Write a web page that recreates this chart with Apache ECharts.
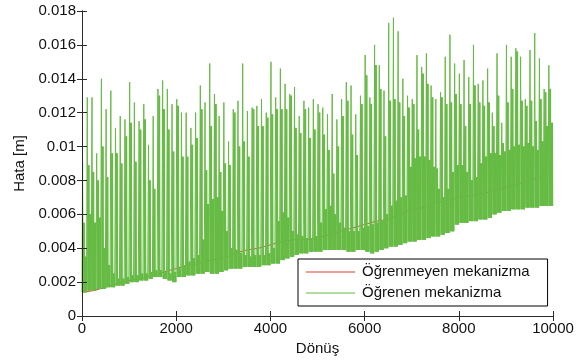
<!DOCTYPE html>
<html><head><meta charset="utf-8">
<script src="https://cdn.jsdelivr.net/npm/echarts@6/dist/echarts.min.js"></script>
<style>html,body{margin:0;padding:0;background:#fff}#c{width:586px;height:363px}</style>
</head><body><div id="c"></div>
<script>
// ---- data ----
const xTickValues = [0, 2000, 4000, 6000, 8000, 10000];
const yTickValues = [0, 0.002, 0.004, 0.006, 0.008, 0.01, 0.012, 0.014, 0.016, 0.018];
const seriesNames = ['Öğrenmeyen mekanizma', 'Öğrenen mekanizma'];

// Öğrenmeyen mekanizma (red), one value every 250 turns
const redStep = 250;
const redValues = [
  0.0014, 0.0015, 0.0017, 0.0019, 0.0021, 0.0022, 0.0024, 0.0026, 0.0028, 0.0030,
  0.0031, 0.0033, 0.0034, 0.0037, 0.0039, 0.0040, 0.0042, 0.0044, 0.0045, 0.0045,
  0.0046, 0.0048, 0.0050, 0.0052, 0.0054, 0.0056, 0.0057, 0.0060, 0.0063, 0.0064,
  0.0067, 0.0068, 0.0070, 0.0071, 0.0072, 0.0074, 0.0076, 0.0078, 0.0080, 0.0082,
  0.0085
];

// Öğrenen mekanizma (green): one spike burst every 100 turns
const spikePeriod = 100;
const spikePeak = [
  0.0091, 0.0129, 0.0129, 0.0096, 0.0140, 0.0122, 0.0133, 0.0111, 0.0118, 0.0116,
  0.0138, 0.0126, 0.0115, 0.0125, 0.0101, 0.0118, 0.0134, 0.0139, 0.0134, 0.0125,
  0.0128, 0.0120, 0.0120, 0.0111, 0.0120, 0.0136, 0.0126, 0.0149, 0.0131, 0.0118,
  0.0126, 0.0103, 0.0122, 0.0127, 0.0149, 0.0121, 0.0123, 0.0124, 0.0128, 0.0120,
  0.0150, 0.0129, 0.0146, 0.0137, 0.0131, 0.0135, 0.0118, 0.0127, 0.0123, 0.0128,
  0.0125, 0.0123, 0.0119, 0.0131, 0.0116, 0.0128, 0.0138, 0.0136, 0.0119, 0.0130,
  0.0154, 0.0129, 0.0160, 0.0148, 0.0133, 0.0173, 0.0176, 0.0168, 0.0140, 0.0130,
  0.0128, 0.0154, 0.0147, 0.0155, 0.0136, 0.0128, 0.0132, 0.0153, 0.0166, 0.0149,
  0.0143, 0.0151, 0.0141, 0.0160, 0.0137, 0.0139, 0.0146, 0.0120, 0.0155, 0.0114,
  0.0160, 0.0153, 0.0158, 0.0153, 0.0128, 0.0157, 0.0167, 0.0152, 0.0134, 0.0148
];
const spikeSecond = [
  0.0055, 0.0089, 0.0085, 0.0080, 0.0100, 0.0082, 0.0096, 0.0096, 0.0090, 0.0106,
  0.0114, 0.0091, 0.0110, 0.0116, 0.0080, 0.0075, 0.0130, 0.0122, 0.0110, 0.0097,
  0.0124, 0.0094, 0.0094, 0.0101, 0.0105, 0.0122, 0.0086, 0.0112, 0.0125, 0.0085,
  0.0090, 0.0089, 0.0120, 0.0100, 0.0103, 0.0094, 0.0122, 0.0112, 0.0112, 0.0117,
  0.0119, 0.0122, 0.0122, 0.0122, 0.0130, 0.0111, 0.0108, 0.0122, 0.0105, 0.0110,
  0.0120, 0.0107, 0.0098, 0.0084, 0.0100, 0.0118, 0.0127, 0.0107, 0.0095, 0.0125,
  0.0142, 0.0125, 0.0148, 0.0134, 0.0106, 0.0127, 0.0128, 0.0126, 0.0118, 0.0123,
  0.0125, 0.0110, 0.0143, 0.0137, 0.0129, 0.0087, 0.0129, 0.0125, 0.0126, 0.0131,
  0.0125, 0.0112, 0.0125, 0.0136, 0.0126, 0.0124, 0.0126, 0.0112, 0.0130, 0.0102,
  0.0126, 0.0134, 0.0156, 0.0127, 0.0124, 0.0127, 0.0115, 0.0128, 0.0132, 0.0134
];
const troughLevel = [
  0.0014, 0.0015, 0.0015, 0.0016, 0.0016, 0.0017, 0.0017, 0.0018, 0.0018, 0.0019,
  0.0020, 0.0020, 0.0021, 0.0021, 0.0022, 0.0023, 0.0023, 0.0022, 0.0021, 0.0020,
  0.0023, 0.0023, 0.0024, 0.0024, 0.0025, 0.0025, 0.0026, 0.0025, 0.0025, 0.0026,
  0.0027, 0.0028, 0.0028, 0.0028, 0.0029, 0.0029, 0.0029, 0.0029, 0.0030, 0.0030,
  0.0031, 0.0031, 0.0033, 0.0034, 0.0035, 0.0036, 0.0037, 0.0037, 0.0038, 0.0038,
  0.0038, 0.0039, 0.0039, 0.0039, 0.0039, 0.0039, 0.0038, 0.0038, 0.0039, 0.0039,
  0.0038, 0.0037, 0.0038, 0.0039, 0.0040, 0.0041, 0.0041, 0.0042, 0.0043, 0.0044,
  0.0044, 0.0045, 0.0045, 0.0046, 0.0047, 0.0047, 0.0048, 0.0049, 0.0050, 0.0054,
  0.0055, 0.0055, 0.0056, 0.0056, 0.0057, 0.0057, 0.0058, 0.0060, 0.0061, 0.0062,
  0.0062, 0.0063, 0.0063, 0.0063, 0.0064, 0.0064, 0.0064, 0.0065, 0.0065, 0.0065
];
// height of the dense oscillation between spikes
const bandTop = [
  0.0035, 0.0060, 0.0055, 0.0058, 0.0040, 0.0030, 0.0025, 0.0022, 0.0022, 0.0023,
  0.0024, 0.0024, 0.0025, 0.0025, 0.0026, 0.0027, 0.0027, 0.0026, 0.0025, 0.0026,
  0.0028, 0.0030, 0.0032, 0.0034, 0.0036, 0.0045, 0.0066, 0.0069, 0.0070, 0.0062,
  0.0050, 0.0040, 0.0039, 0.0037, 0.0036, 0.0035, 0.0036, 0.0036, 0.0036, 0.0037,
  0.0040, 0.0056, 0.0061, 0.0058, 0.0050, 0.0048, 0.0047, 0.0046, 0.0046, 0.0047,
  0.0055, 0.0063, 0.0065, 0.0060, 0.0055, 0.0052, 0.0050, 0.0050, 0.0050, 0.0052,
  0.0053, 0.0054, 0.0055, 0.0056, 0.0060, 0.0065, 0.0068, 0.0070, 0.0071, 0.0088,
  0.0093, 0.0094, 0.0094, 0.0092, 0.0088, 0.0075, 0.0070, 0.0075, 0.0085, 0.0089,
  0.0089, 0.0085, 0.0080, 0.0082, 0.0090, 0.0094, 0.0096, 0.0096, 0.0095, 0.0097,
  0.0098, 0.0100, 0.0101, 0.0100, 0.0102, 0.0100, 0.0098, 0.0103, 0.0112, 0.0114
];

// ---- build series data ----
const redData = redValues.map((v, i) => [i * redStep, v]);
const greenData = [];
for (let k = 0; k < spikePeak.length; k++) {
  const x0 = k * spikePeriod;
  const prev = k === 0 ? troughLevel[0] : troughLevel[k - 1];
  const T = troughLevel[k];
  const B = bandTop[k];
  greenData.push(
    [x0, prev], [x0 + 12, spikePeak[k]], [x0 + 24, T],
    [x0 + 32, spikeSecond[k]], [x0 + 40, T], [x0 + 48, spikeSecond[k]], [x0 + 56, T],
    [x0 + 63, B], [x0 + 70, T], [x0 + 77, B], [x0 + 84, T], [x0 + 90, B], [x0 + 95, T]
  );
}
greenData.push([10000, troughLevel[troughLevel.length - 1]]);

const GREEN = '#66bb44';
const RED = '#e23c30';
const FONT = 'Liberation Sans, Arial, sans-serif';
const AXIS = '#2a2a2a';

const chart = echarts.init(document.getElementById('c'), null, {renderer: 'canvas'});
const axisCommon = {
  axisLine: {show: true, lineStyle: {color: AXIS, width: 1}},
  axisTick: {show: true, inside: true, length: 5, lineStyle: {color: AXIS}},
  splitLine: {show: false},
  z: 10
};
chart.setOption({
  animation: false,
  backgroundColor: '#fff',
  textStyle: {fontFamily: FONT},
  grid: {left: 82, right: 33, top: 11, bottom: 47, containLabel: false},
  legend: {
    data: seriesNames,
    orient: 'vertical',
    left: 298, top: 259,
    padding: [5, 18, 5, 8],
    itemWidth: 49, itemHeight: 1, itemGap: 5,
    icon: 'rect',
    backgroundColor: '#fff',
    borderColor: '#000', borderWidth: 1, borderRadius: 0,
    textStyle: {fontFamily: FONT, fontSize: 15, color: '#111', lineHeight: 16, padding: [0, 0, 0, 2]},
    selectedMode: false,
    z: 20
  },
  xAxis: [
    Object.assign({}, axisCommon, {
      type: 'value', min: 0, max: 10000, interval: 2000, position: 'bottom',
      name: 'Dönüş', nameLocation: 'middle', nameGap: 22,
      nameTextStyle: {fontFamily: FONT, fontSize: 15, color: '#111'},
      axisLabel: {fontFamily: FONT, fontSize: 15, color: '#111', margin: 5,
        formatter: v => xTickValues.includes(v) ? String(v) : ''}
    }),
    Object.assign({}, axisCommon, {
      type: 'value', min: 0, max: 10000, interval: 2000, position: 'top',
      axisLabel: {show: false}
    })
  ],
  yAxis: [
    Object.assign({}, axisCommon, {
      type: 'value', min: 0, max: 0.018, interval: 0.002, position: 'left',
      name: 'Hata [m]', nameLocation: 'middle', nameGap: 55,
      nameTextStyle: {fontFamily: FONT, fontSize: 15, color: '#111'},
      axisLabel: {fontFamily: FONT, fontSize: 15, color: '#111', margin: 6,
        formatter: v => { const t = yTickValues.find(y => Math.abs(y - v) < 1e-9); return t === undefined ? '' : String(t); }}
    }),
    Object.assign({}, axisCommon, {
      type: 'value', min: 0, max: 0.018, interval: 0.002, position: 'right',
      axisLabel: {show: false}
    })
  ],
  series: [
    {
      name: seriesNames[0], type: 'line', data: redData,
      showSymbol: false, symbol: 'none', z: 2,
      lineStyle: {color: RED, width: 1}, itemStyle: {color: RED}
    },
    {
      name: seriesNames[1], type: 'line', data: greenData,
      showSymbol: false, symbol: 'none', z: 4, sampling: null,
      lineStyle: {color: GREEN, width: 1}, itemStyle: {color: GREEN}
    }
  ]
});
</script>
</body></html>
